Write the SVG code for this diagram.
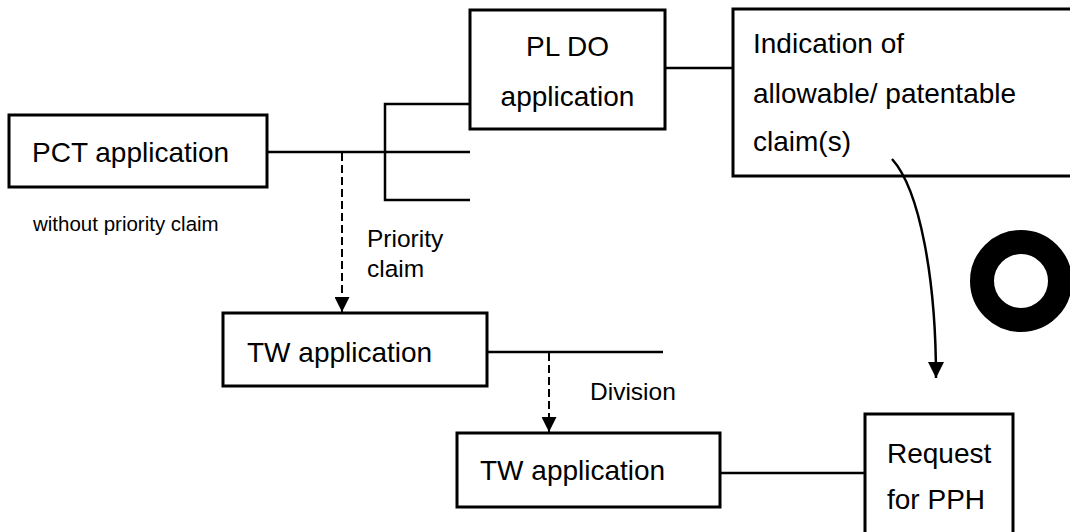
<svg xmlns="http://www.w3.org/2000/svg" width="1070" height="532" viewBox="0 0 1070 532">
  <style>
    .box { fill: #fff; stroke: #000; stroke-width: 3; }
    .t { font-family: "Liberation Sans", Arial, sans-serif; font-size: 28px; fill: #000; }
    .s { font-family: "Liberation Sans", Arial, sans-serif; font-size: 24.5px; fill: #000; }
    .xs { font-family: "Liberation Sans", Arial, sans-serif; font-size: 20.5px; fill: #000; }
    .ln { fill: none; stroke: #000; stroke-width: 2.5; }
    .dash { fill: none; stroke: #000; stroke-width: 2; stroke-dasharray: 8 4; }
  </style>
  <defs>
    <marker id="ah" viewBox="0 0 10 10" refX="10" refY="5" markerWidth="15" markerHeight="15" markerUnits="userSpaceOnUse" orient="auto">
      <path d="M0,0 L10,5 L0,10 Z" fill="#000"/>
    </marker>
    <marker id="ah2" viewBox="0 0 10 10" refX="10" refY="5" markerWidth="16" markerHeight="16" markerUnits="userSpaceOnUse" orient="auto">
      <path d="M0,0 L10,5 L0,10 Z" fill="#000"/>
    </marker>
  </defs>
  <rect width="1070" height="532" fill="#fff"/>

  <g id="pct">
    <rect class="box" x="9" y="115" width="258" height="72"/>
    <text class="t" x="32" y="162">PCT application</text>
    <text class="xs" x="33" y="231">without priority claim</text>
  </g>

  <g id="pldo">
    <rect class="box" x="470" y="10" width="195" height="119"/>
    <text class="t" x="567.5" y="56" text-anchor="middle">PL DO</text>
    <text class="t" x="567.5" y="106" text-anchor="middle">application</text>
  </g>

  <g id="indication">
    <rect class="box" x="733" y="9" width="360" height="167"/>
    <text class="t" x="753" y="53">Indication of</text>
    <text class="t" x="753" y="103">allowable/ patentable</text>
    <text class="t" x="753" y="151">claim(s)</text>
  </g>

  <g id="tw1">
    <rect class="box" x="223" y="313" width="264" height="73"/>
    <text class="t" x="247" y="362">TW application</text>
  </g>

  <g id="tw2">
    <rect class="box" x="457" y="433" width="263" height="74"/>
    <text class="t" x="480" y="480">TW application</text>
  </g>

  <g id="request">
    <rect class="box" x="865" y="414" width="148" height="140"/>
    <text class="t" x="887" y="463">Request</text>
    <text class="t" x="887" y="509">for PPH</text>
  </g>

  <g id="ring">
    <circle cx="1021" cy="281" r="39" fill="none" stroke="#000" stroke-width="24"/>
  </g>

  <g id="connectors">
    <line class="ln" x1="268" y1="152" x2="470" y2="152"/>
    <polyline class="ln" points="469,104 385,104 385,200 470,200"/>
    <line class="ln" x1="666" y1="68" x2="732" y2="68"/>
    <line class="ln" x1="488" y1="352" x2="663" y2="352"/>
    <line class="ln" x1="721" y1="473" x2="864" y2="473"/>
    <line class="dash" x1="342" y1="153" x2="342" y2="312" marker-end="url(#ah)"/>
    <line class="dash" x1="549" y1="353" x2="549" y2="432" marker-end="url(#ah)"/>
    <path class="ln" d="M892,159 C920,190 936,280 936,378" marker-end="url(#ah2)"/>
    <text class="s" x="367" y="247">Priority</text>
    <text class="s" x="367" y="277">claim</text>
    <text class="s" x="590" y="400">Division</text>
  </g>
</svg>
